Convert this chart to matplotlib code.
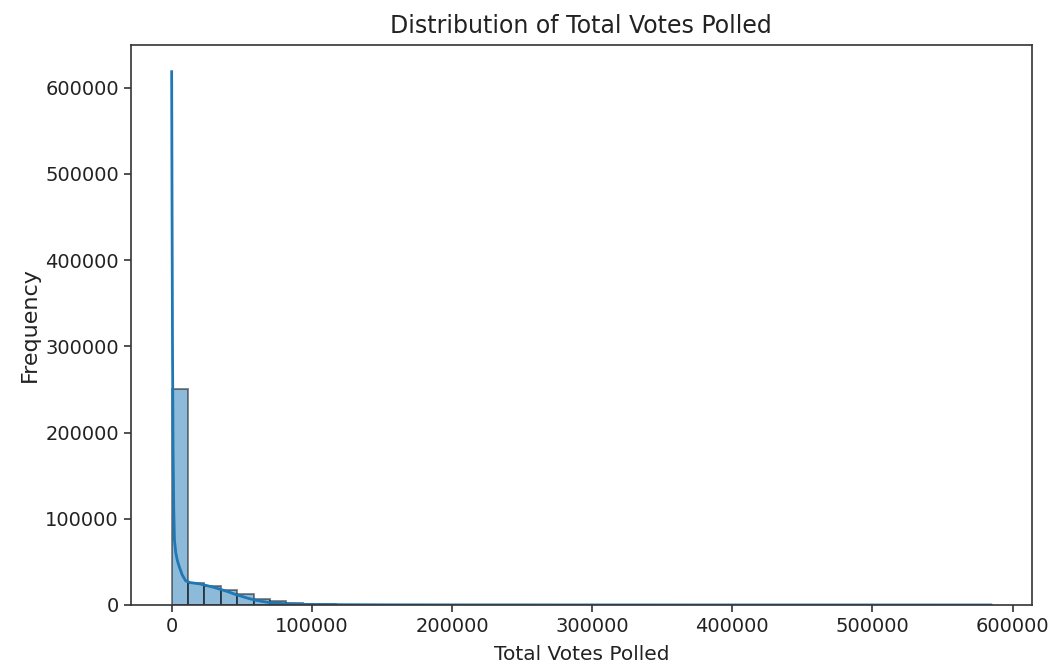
import numpy as np
import matplotlib
matplotlib.use("Agg")
import matplotlib.pyplot as plt

# ---- data ----
data_min = 0
data_max = 584500
n_bins = 50
counts = [251000, 26000, 21500, 17500, 12500, 7500, 4200, 2000, 1000, 600,
          400, 300, 250, 200, 170, 150, 130, 110, 100, 90,
          80, 70, 60, 55, 50, 45, 40, 35, 30, 28,
          26, 24, 22, 20, 18, 16, 14, 12, 10, 9,
          8, 7, 6, 5, 5, 4, 4, 3, 3, 2]

kde_x = [0, 300, 600, 1000, 1500, 2000, 3000, 4000, 5500, 7500, 10000, 13000,
         20000, 25000, 30000, 35000, 40000, 45000, 50000, 55000, 60000, 65000,
         70000, 80000, 90000, 100000, 120000, 150000, 200000, 300000, 400000,
         500000, 584500]
kde_y = [618700, 450000, 300000, 180000, 110000, 75000, 60000, 52000, 44000,
         35000, 28000, 26000, 24500, 22500, 20500, 18000, 15500, 12500, 10000,
         7500, 5500, 4000, 2800, 1500, 900, 600, 350, 200, 120, 60, 30, 15, 5]

title = "Distribution of Total Votes Polled"
xlabel = "Total Votes Polled"
ylabel = "Frequency"

# ---- plot ----
plt.rcParams['font.family'] = ['DejaVu Sans']
fig = plt.figure(figsize=(10.54, 6.67), dpi=100)
ax = fig.add_axes([0.124, 0.093, 0.855, 0.8395])

edges = np.linspace(data_min, data_max, n_bins + 1)
widths = np.diff(edges)
ax.bar(edges[:-1], counts, width=widths, align='edge',
       facecolor='#1f77b4', edgecolor='black', linewidth=1.3, alpha=0.5)
ax.plot(kde_x, kde_y, color='#1f77b4', linewidth=2.0)

ax.margins(x=0.05, y=0.05)
ax.set_ylim(0, max(kde_y) * 1.05)

for s in ax.spines.values():
    s.set_linewidth(1.2)
    s.set_color('#333333')

ax.set_title(title, fontsize=17, pad=9, color='#222222')
ax.set_xlabel(xlabel, fontsize=14.5, labelpad=7, color='#222222')
ax.set_ylabel(ylabel, fontsize=16, labelpad=4, color='#222222')
ax.tick_params(labelsize=14, length=5, width=1.2, colors='#333333',
               labelcolor='#222222')

fig.savefig("out.png", dpi=100)
